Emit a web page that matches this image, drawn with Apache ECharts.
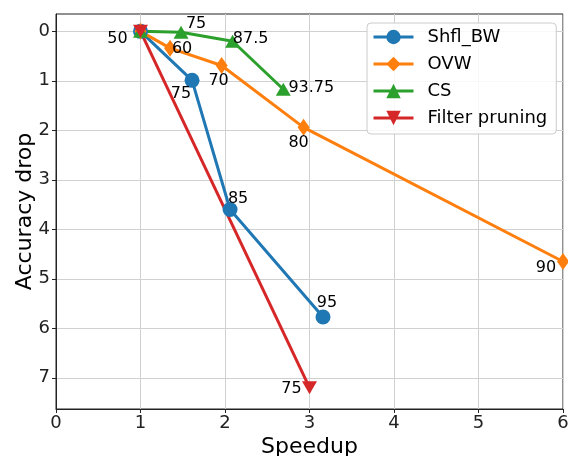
<!DOCTYPE html>
<html>
<head>
<meta charset="utf-8">
<script src="https://cdn.jsdelivr.net/npm/echarts@6/dist/echarts.min.js"></script>
<style>
  html, body { margin: 0; padding: 0; background: #fff; }
  #chart { width: 568px; height: 456px; }
</style>
</head>
<body>
<div id="chart"></div>
<script>
// speedup (x) / accuracy drop (y) / sparsity labels
const shflX = [1, 1.61, 2.06, 3.16];
const shflY = [0, 0.99, 3.6, 5.77];
const shflLabels = ["50", "75", "85", "95"];

const ovwX = [1, 1.35, 1.96, 2.93, 6.0];
const ovwY = [0, 0.34, 0.69, 1.94, 4.65];
const ovwLabels = ["", "60", "70", "80", "90"];

const csX = [1, 1.48, 2.09, 2.69];
const csY = [0, 0.02, 0.2, 1.17];
const csLabels = ["", "75", "87.5", "93.75"];

const fpX = [1, 3.0];
const fpY = [0, 7.2];
const fpLabels = ["", "75"];

const yTicks = [0, 1, 2, 3, 4, 5, 6, 7];

// label offsets (px) from each point
const shflOff = [[-23, 8], [-11, 14], [8, -11], [4, -14]];
const ovwOff = [[0, 0], [12, 1], [-3, 15], [-5, 15], [-17, 6]];
const csOff = [[0, 0], [15, -8], [18, -2], [28, -1]];
const fpOff = [[0, 0], [-18, 1]];

const font = "DejaVu Sans";

function points(xs, ys, labels, offs) {
  return xs.map((x, i) => ({
    value: [x, ys[i]],
    label: {
      show: labels[i] !== "",
      formatter: labels[i],
      position: "inside",
      offset: offs[i],
      color: "#000",
      fontSize: 16,
      fontFamily: font,
    },
  }));
}

function lineSeries(name, color, symbol, size, data, rotate) {
  return {
    name: name,
    type: "line",
    data: data,
    symbol: symbol,
    symbolSize: size,
    symbolRotate: rotate || 0,
    showAllSymbol: true,
    clip: false,
    itemStyle: { color: color },
    lineStyle: { color: color, width: 3 },
    emphasis: { disabled: true },
  };
}

const chart = echarts.init(document.getElementById("chart"));
chart.setOption({
  animation: false,
  grid: {
    left: 56,
    right: 5,
    top: 14,
    bottom: 47,
    outerBoundsMode: "none",
    containLabel: false,
    show: true,
    borderColor: "#222",
    borderWidth: 1,
  },
  legend: {
    orient: "vertical",
    left: 367,
    top: 23,
    itemWidth: 40,
    itemHeight: 18,
    itemGap: 9,
    padding: [5, 9, 7, 5],
    borderColor: "#ccc",
    borderWidth: 1,
    borderRadius: 4,
    backgroundColor: "rgba(255,255,255,0.85)",
    lineStyle: { width: 3 },
    textStyle: {
      fontFamily: font,
      fontSize: 18,
      color: "#000",
      padding: [0, 0, 0, 9],
    },
    data: ["Shfl_BW", "OVW", "CS", "Filter pruning"],
  },
  xAxis: {
    type: "value",
    min: 0,
    max: 6,
    interval: 1,
    name: "Speedup",
    nameLocation: "middle",
    nameGap: 27,
    nameMoveOverlap: false,
    nameTextStyle: { fontFamily: font, fontSize: 22, color: "#000" },
    axisLine: { show: true, onZero: false, lineStyle: { color: "#222", width: 1 } },
    axisTick: { show: true, length: 4, lineStyle: { color: "#222" } },
    axisLabel: { fontFamily: font, fontSize: 18, color: "#222", margin: 5 },
    splitLine: { show: true, lineStyle: { color: "#d0d0d0", width: 1 } },
  },
  yAxis: {
    type: "value",
    inverse: true,
    min: -0.35,
    max: 7.63,
    name: "Accuracy drop",
    nameLocation: "middle",
    nameGap: 20,
    nameMoveOverlap: false,
    nameTextStyle: { fontFamily: font, fontSize: 22, color: "#000" },
    axisLine: { show: true, onZero: false, lineStyle: { color: "#222", width: 1 } },
    axisTick: { show: true, length: 4, customValues: yTicks, lineStyle: { color: "#222" } },
    axisLabel: { fontFamily: font, fontSize: 18, color: "#222", margin: 6, customValues: yTicks },
    splitLine: { show: true, lineStyle: { color: "#d0d0d0", width: 1 } },
  },
  series: [
    lineSeries("Shfl_BW", "#1f77b4", "circle", 15, points(shflX, shflY, shflLabels, shflOff)),
    lineSeries("OVW", "#ff7f0e", "diamond", [12, 17], points(ovwX, ovwY, ovwLabels, ovwOff)),
    lineSeries("CS", "#2ca02c", "triangle", [15, 13], points(csX, csY, csLabels, csOff)),
    lineSeries("Filter pruning", "#d62728", "triangle", [15, 13], points(fpX, fpY, fpLabels, fpOff), 180),
  ],
});
</script>
</body>
</html>
